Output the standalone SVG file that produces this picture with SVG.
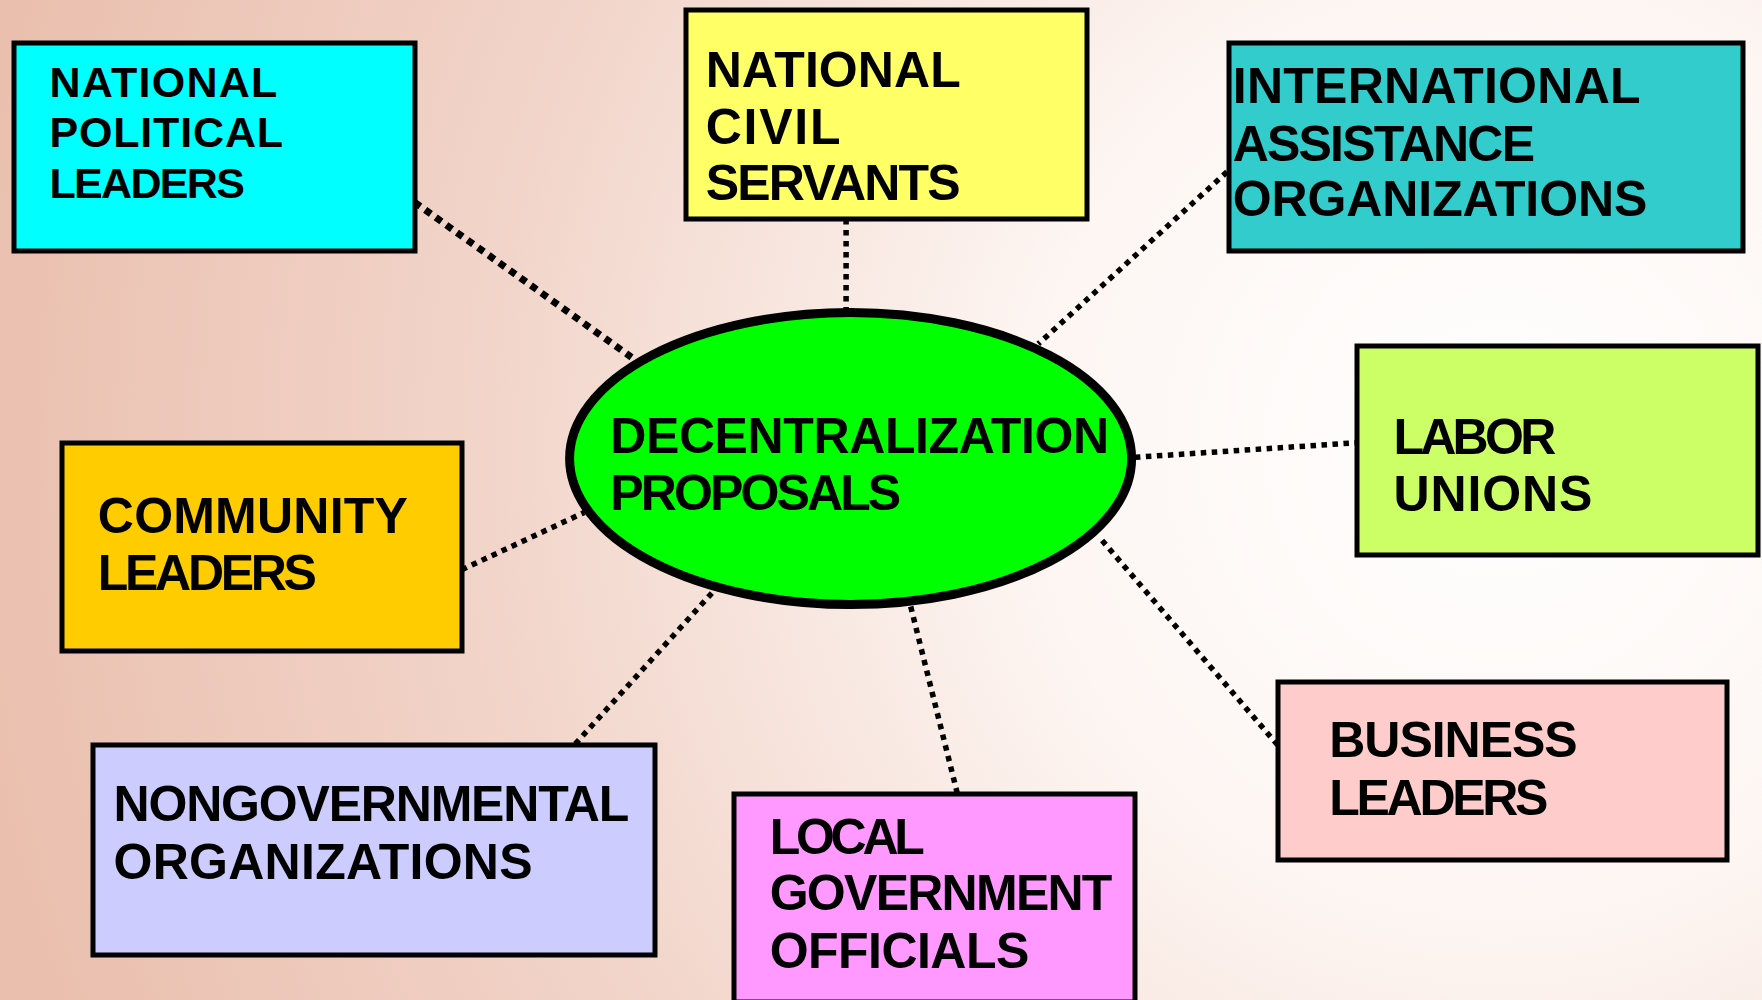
<svg xmlns="http://www.w3.org/2000/svg" width="1762" height="1000" viewBox="0 0 1762 1000">
<defs>
<radialGradient id="bg" cx="1500" cy="450" r="1550" gradientUnits="userSpaceOnUse">
<stop offset="0" stop-color="#ffffff"/>
<stop offset="0.3" stop-color="#fdf6f3"/>
<stop offset="0.65" stop-color="#f2d5ca"/>
<stop offset="1" stop-color="#eabfae"/>
</radialGradient>
<style>
.box{stroke:#000;stroke-width:5}
.lbl{font-family:"Liberation Sans",Arial,sans-serif;font-weight:bold;font-size:50px;fill:#000}
.small{font-size:43px}
.con{stroke:#000;stroke-width:5.5;stroke-dasharray:5.5 5.5;fill:none}
.thick{stroke-width:7;stroke-dasharray:7 6}
</style>
</defs>
<rect x="0" y="0" width="1762" height="1000" fill="url(#bg)"/>
<g id="connectors">
<line class="con thick" x1="414.6" y1="202.3" x2="631.5" y2="357.3"/>
<line class="con" x1="846.1" y1="219.1" x2="846.1" y2="312"/>
<line class="con" x1="1227" y1="171.9" x2="1038.3" y2="343.9"/>
<line class="con" x1="1134.9" y1="457.3" x2="1357.4" y2="442.7"/>
<line class="con" x1="461.8" y1="569.7" x2="584.3" y2="512.4"/>
<line class="con" x1="575.3" y1="743.9" x2="714.7" y2="589.9"/>
<line class="con" x1="957.3" y1="793.3" x2="910.2" y2="604.5"/>
<line class="con" x1="1277.6" y1="745" x2="1101.2" y2="539.4"/>
</g>
<g id="national-political-leaders">
<rect class="box" x="14" y="43" width="401" height="208" fill="#00ffff"/>
<text class="lbl small" x="49.4" y="96.6" textLength="228">NATIONAL</text>
<text class="lbl small" x="49.4" y="147.2" textLength="233.7">POLITICAL</text>
<text class="lbl small" x="49.4" y="197.8" textLength="195.5">LEADERS</text>
</g>
<g id="national-civil-servants">
<rect class="box" x="686" y="10" width="401" height="209" fill="#ffff66"/>
<text class="lbl" x="705.7" y="86.5" textLength="255">NATIONAL</text>
<text class="lbl" x="705.7" y="143.8" textLength="134.8">CIVIL</text>
<text class="lbl" x="705.7" y="200" textLength="255">SERVANTS</text>
</g>
<g id="international-assistance-organizations">
<rect class="box" x="1229" y="43" width="514" height="208" fill="#33cccc"/>
<text class="lbl" x="1232.7" y="103.4" textLength="407.9">INTERNATIONAL</text>
<text class="lbl" x="1232.7" y="160.7" textLength="302.3">ASSISTANCE</text>
<text class="lbl" x="1232.7" y="215.8" textLength="414.6">ORGANIZATIONS</text>
</g>
<g id="community-leaders">
<rect class="box" x="62" y="443" width="400" height="208" fill="#ffcc00"/>
<text class="lbl" x="97.8" y="532.6" textLength="310.1">COMMUNITY</text>
<text class="lbl" x="97.8" y="589.9" textLength="219.1">LEADERS</text>
</g>
<g id="decentralization-proposals">
<ellipse cx="850.6" cy="458.5" rx="281" ry="146" fill="#00ff00" stroke="#000" stroke-width="9"/>
<text class="lbl" x="610.2" y="452.9" textLength="498.9">DECENTRALIZATION</text>
<text class="lbl" x="610.2" y="510.2" textLength="291">PROPOSALS</text>
</g>
<g id="labor-unions">
<rect class="box" x="1357" y="346" width="401" height="209" fill="#ccff66"/>
<text class="lbl" x="1393.4" y="454" textLength="162.9">LABOR</text>
<text class="lbl" x="1393.4" y="511.3" textLength="198.9">UNIONS</text>
</g>
<g id="nongovernmental-organizations">
<rect class="box" x="93" y="745" width="562" height="210" fill="#ccccff"/>
<text class="lbl" x="113.5" y="821.4" textLength="515.8">NONGOVERNMENTAL</text>
<text class="lbl" x="113.5" y="878.7" textLength="419.1">ORGANIZATIONS</text>
</g>
<g id="local-government-officials">
<rect class="box" x="734" y="794" width="401" height="208" fill="#ff99ff"/>
<text class="lbl" x="769.7" y="854" textLength="155.1">LOCAL</text>
<text class="lbl" x="769.7" y="910.2" textLength="342.7">GOVERNMENT</text>
<text class="lbl" x="769.7" y="967.5" textLength="259.6">OFFICIALS</text>
</g>
<g id="business-leaders">
<rect class="box" x="1278" y="682" width="449" height="178" fill="#ffcccc"/>
<text class="lbl" x="1329.3" y="757.4" textLength="248.3">BUSINESS</text>
<text class="lbl" x="1329.3" y="814.7" textLength="219.1">LEADERS</text>
</g>
</svg>
